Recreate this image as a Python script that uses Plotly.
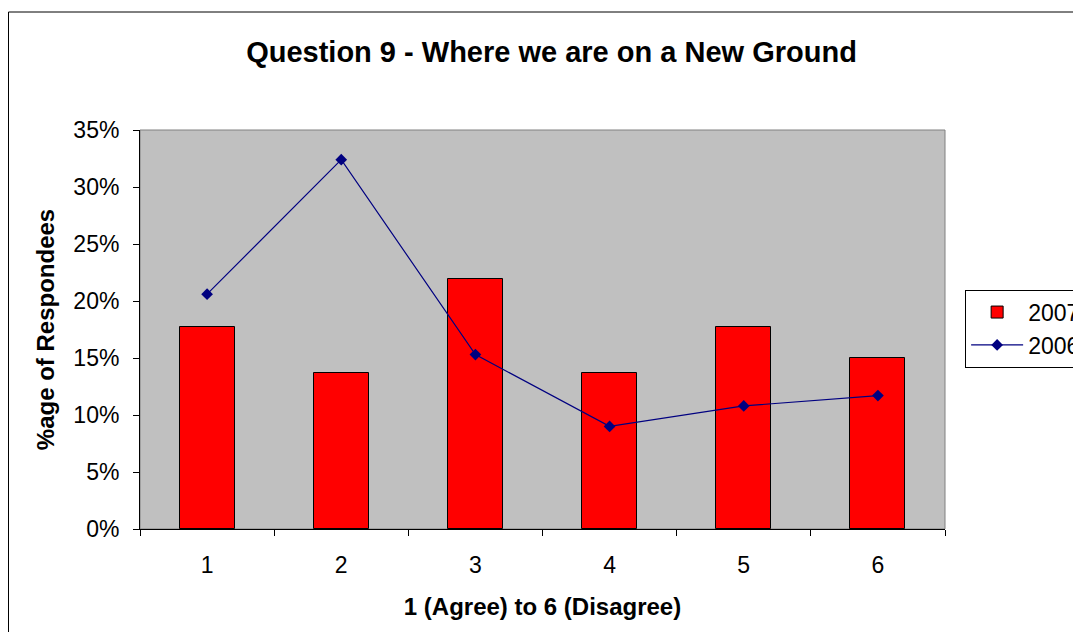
import plotly.graph_objects as go

categories = ["1", "2", "3", "4", "5", "6"]
values_2007 = [0.177, 0.137, 0.219, 0.137, 0.177, 0.150]
values_2006 = [0.206, 0.324, 0.153, 0.090, 0.108, 0.117]

fig = go.Figure()
fig.add_trace(go.Bar(
    x=categories, y=values_2007, name="2007",
    marker=dict(color="#FF0000", line=dict(color="#000000", width=1)),
    width=0.41,
))
fig.add_trace(go.Scatter(
    x=categories, y=values_2006, name="2006", mode="lines+markers",
    line=dict(color="#000080", width=1.2),
    marker=dict(symbol="diamond", size=9, color="#000080"),
))

FONT = "Liberation Sans, Arial, sans-serif"
W, H = 1073, 624
fig.update_layout(
    width=W, height=H,
    paper_bgcolor="white", plot_bgcolor="#C0C0C0",
    font=dict(family=FONT, size=23, color="black"),
    margin=dict(l=132, r=136, t=122, b=103, autoexpand=False),
    title=dict(text="<b>Question 9 - Where we are on a New Ground</b>",
               x=(551.5 - 8) / W, xref="container", xanchor="center",
               y=1 - (52 - 8) / H, yref="container", yanchor="middle",
               font=dict(size=29)),
    showlegend=True,
    legend=dict(x=1.025, xanchor="left", y=0.6, yanchor="top",
                bordercolor="black", borderwidth=1, bgcolor="white",
                font=dict(size=23), tracegroupgap=4, itemwidth=52),
    xaxis=dict(
        type="category", tickson="boundaries", ticks="outside", ticklen=6,
        tickcolor="black", showgrid=False, showline=True, linecolor="black",
        linewidth=1, mirror=False, ticklabelstandoff=15,
        title=dict(text="<b>1 (Agree) to 6 (Disagree)</b>", font=dict(size=24), standoff=21),
        tickfont=dict(size=23),
    ),
    yaxis=dict(
        range=[0, 0.35], dtick=0.05, tickformat=".0%", ticks="outside", ticklen=6,
        tickcolor="black", showgrid=False, showline=True, linecolor="black",
        linewidth=1, zeroline=False, ticklabelstandoff=9,
        title=dict(text="<b>%age of Respondees</b>", font=dict(size=24), standoff=11),
        tickfont=dict(size=23),
    ),
    bargap=0,
)

# plot area border (top/right gray)
fig.add_shape(type="rect", xref="paper", yref="paper", x0=0, y0=0, x1=1, y1=1,
              line=dict(color="#808080", width=1), layer="below")
# outer chart border
fig.add_shape(type="rect", xref="paper", yref="paper",
              x0=(8.5 - 140) / 805, y0=(529 - 700) / 399, x1=(1100 - 140) / 805, y1=(529 - 12) / 399,
              line=dict(color="black", width=1), fillcolor="rgba(0,0,0,0)")

fig.write_html("out.html")
